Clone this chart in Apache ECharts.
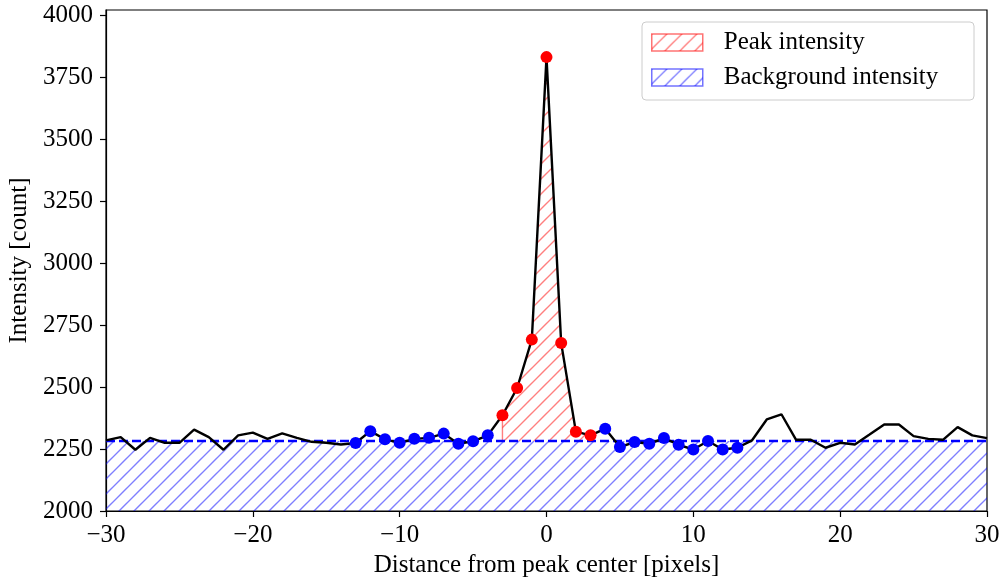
<!DOCTYPE html>
<html>
<head>
<meta charset="utf-8">
<script src="https://cdn.jsdelivr.net/npm/echarts@6/dist/echarts.min.js"></script>
<style>
  html, body { margin: 0; padding: 0; background: #fff; }
  #chart { width: 1002px; height: 581px; }
</style>
</head>
<body>
<div id="chart"></div>
<script>
// 数据：每个像素位置的强度
const distance = [];
for (let i = -30; i <= 30; i++) distance.push(i);
const intensity = [
  2285, 2298, 2247, 2295, 2275, 2275, 2328, 2298, 2247, 2305,
  2316, 2291, 2313, 2295, 2279, 2275, 2268, 2274, 2322, 2289,
  2275, 2291, 2295, 2312, 2271, 2281, 2305, 2386, 2496, 2691,
  3830, 2677, 2320, 2305, 2332, 2258, 2278, 2271, 2294, 2267,
  2248, 2282, 2248, 2255, 2285, 2369, 2390, 2287, 2287, 2255,
  2275, 2268, 2308, 2349, 2349, 2302, 2291, 2287, 2338, 2305,
  2294
];
const peakX = [-3, -2, -1, 0, 1, 2, 3];
const backgroundX = [-13, -12, -11, -10, -9, -8, -7, -6, -5, -4, 4, 5, 6, 7, 8, 9, 10, 11, 12, 13];
const backgroundLevel = 2282;
const xTicks = [-30, -20, -10, 0, 10, 20, 30];
const yTicks = [2000, 2250, 2500, 2750, 3000, 3250, 3500, 3750, 4000];

const FONT = 'Liberation Serif';

// 斜线填充
function hatch(color) {
  const c = document.createElement('canvas');
  c.width = 15;
  c.height = 15;
  const g = c.getContext('2d');
  g.strokeStyle = color;
  g.lineWidth = 1.4;
  g.beginPath();
  g.moveTo(0, 15); g.lineTo(15, 0);
  g.moveTo(-2, 2); g.lineTo(2, -2);
  g.moveTo(13, 17); g.lineTo(17, 13);
  g.stroke();
  return { image: c, repeat: 'repeat' };
}
const redHatch = hatch('rgba(255,0,0,0.5)');
const blueHatch = hatch('rgba(0,0,255,0.5)');

const valueAt = x => intensity[distance.indexOf(x)];
const pairs = xs => xs.map(x => [x, valueAt(x)]);
const fmt = v => (v < 0 ? '\u2212' + Math.abs(v) : String(v));

const first = peakX[0], last = peakX[peakX.length - 1];

var myChart = echarts.init(document.getElementById('chart'));

const option = {
  animation: false,
  grid: {
    left: 106, right: 15, top: 10, bottom: 70,
    containLabel: false, outerBoundsMode: 'none',
    show: true, borderColor: '#000', borderWidth: 1.2, backgroundColor: 'transparent'
  },
  xAxis: {
    type: 'value',
    min: -30, max: 30, interval: 10,
    name: 'Distance from peak center [pixels]',
    nameLocation: 'middle',
    nameGap: 39,
    nameTextStyle: { fontFamily: FONT, fontSize: 25, color: '#000' },
    axisLine: { show: true, onZero: false, lineStyle: { color: '#000', width: 1.2 } },
    axisTick: { show: true, length: 6, customValues: xTicks, lineStyle: { color: '#000', width: 1.2 } },
    axisLabel: { customValues: xTicks, margin: 12, fontFamily: FONT, fontSize: 25, color: '#000', formatter: fmt },
    splitLine: { show: false }
  },
  yAxis: {
    type: 'value',
    min: 2000, max: 4020,
    name: 'Intensity [count]',
    nameLocation: 'middle',
    nameGap: 70,
    nameTextStyle: { fontFamily: FONT, fontSize: 25, color: '#000' },
    axisLine: { show: true, onZero: false, lineStyle: { color: '#000', width: 1.2 } },
    axisTick: { show: true, length: 6, customValues: yTicks, lineStyle: { color: '#000', width: 1.2 } },
    axisLabel: { customValues: yTicks, margin: 13, fontFamily: FONT, fontSize: 25, color: '#000', formatter: v => String(v) },
    splitLine: { show: false }
  },
  legend: {
    orient: 'vertical',
    left: 642, top: 22,
    padding: [8, 9, 5, 9],
    itemWidth: 51, itemHeight: 17, itemGap: 10,
    textStyle: { fontFamily: FONT, fontSize: 25, color: '#000', padding: [0, 0, 0, 16] },
    data: [
      { name: 'Peak intensity', icon: 'rect',
        itemStyle: { color: redHatch, borderColor: 'rgba(255,0,0,0.55)', borderWidth: 1.5 } },
      { name: 'Background intensity', icon: 'rect',
        itemStyle: { color: blueHatch, borderColor: 'rgba(0,0,255,0.55)', borderWidth: 1.5 } }
    ],
    z: 10
  },
  graphic: [{
    type: 'rect', z: 9,
    shape: { x: 642, y: 22, width: 332, height: 78, r: 4 },
    style: { fill: 'rgba(255,255,255,0.85)', stroke: '#cccccc', lineWidth: 1 }
  }],
  series: [
    {
      name: 'Background intensity',
      type: 'line',
      data: [[-30, backgroundLevel], [30, backgroundLevel]],
      symbol: 'none',
      lineStyle: { color: '#0000ff', width: 2.5, type: [9, 4] },
      areaStyle: { color: blueHatch, origin: 'start', opacity: 1 },
      z: 2
    },
    {
      name: 'Peak intensity',
      type: 'line',
      data: pairs(peakX),
      symbol: 'none',
      lineStyle: { width: 0 },
      areaStyle: { color: redHatch, origin: backgroundLevel, opacity: 1 },
      z: 1
    },
    {
      name: 'peak edge left',
      type: 'line',
      data: [[first, backgroundLevel], [first, valueAt(first)]],
      symbol: 'none',
      lineStyle: { color: 'rgba(255,0,0,0.5)', width: 1.4 },
      z: 1
    },
    {
      name: 'peak edge right',
      type: 'line',
      data: [[last, backgroundLevel], [last, valueAt(last)]],
      symbol: 'none',
      lineStyle: { color: 'rgba(255,0,0,0.5)', width: 1.4 },
      z: 1
    },
    {
      name: 'profile',
      type: 'line',
      data: distance.map((x, i) => [x, intensity[i]]),
      symbol: 'none',
      lineStyle: { color: '#000', width: 2.4 },
      z: 3
    },
    {
      name: 'peak points',
      type: 'scatter',
      data: pairs(peakX),
      symbolSize: 12,
      itemStyle: { color: '#ff0000', opacity: 1 },
      z: 4
    },
    {
      name: 'background points',
      type: 'scatter',
      data: pairs(backgroundX),
      symbolSize: 12,
      itemStyle: { color: '#0000ff', opacity: 1 },
      z: 4
    }
  ]
};

option && myChart.setOption(option);
</script>
</body>
</html>
